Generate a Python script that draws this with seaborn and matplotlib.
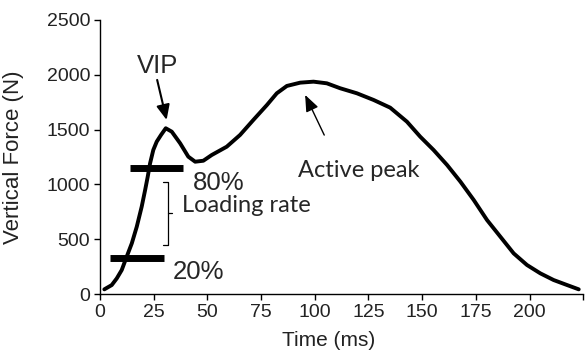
import numpy as np
import pandas as pd
import matplotlib
matplotlib.use("Agg")
import matplotlib.pyplot as plt
import seaborn as sns

# Data
time_ms = [2.0, 5.45, 7.8, 10.1, 12.4, 14.8, 17.1, 19.4, 21.0, 22.2, 23.3, 24.8,
           26.4, 28.4, 30.6, 33.4, 37.3, 41.1, 44.3, 48.1, 52.0, 59.0, 65.2, 71.4,
           77.7, 82.3, 87.0, 93.2, 99.4, 105.6, 111.8, 119.6, 127.4, 135.1, 142.9,
           149.1, 155.3, 161.6, 167.8, 174.0, 180.2, 186.4, 192.6, 198.8, 205.0,
           211.2, 217.5, 222.9]
force_n = [43, 82, 143, 219, 340, 463, 614, 797, 949, 1070, 1192, 1314,
           1390, 1451, 1512, 1481, 1375, 1253, 1207, 1216, 1268, 1344, 1451, 1588,
           1724, 1831, 1898, 1928, 1937, 1922, 1877, 1831, 1770, 1700, 1572,
           1435, 1314, 1177, 1025, 858, 675, 523, 371, 265, 189,
           128, 82, 43]

bar80_x = [14, 38.7]
bar80_y = [1150, 1150]
bar20_x = [4.7, 29.8]
bar20_y = [328, 328]

x_ticks = [0, 25, 50, 75, 100, 125, 150, 175, 200, 225]
x_tick_labels = ["0", "25", "50", "75", "100", "125", "150", "175", "200", ""]
y_ticks = [0, 500, 1000, 1500, 2000, 2500]
y_tick_labels = ["0", "500", "1000", "1500", "2000", "2500"]

sns.set_theme(style="ticks")
plt.rcParams['font.family'] = ['Liberation Sans', 'DejaVu Sans']

fig = plt.figure(figsize=(5.85, 3.56), dpi=100)
ax = fig.add_axes([0.171, 0.174, 0.826, 0.770])

df = pd.DataFrame({"t": time_ms, "f": force_n})
sns.lineplot(data=df, x="t", y="f", ax=ax, color="black", linewidth=2.8,
             sort=False, estimator=None)
ax.lines[-1].set_solid_joinstyle("round")
ax.plot(bar80_x, bar80_y, color="black", linewidth=5, solid_capstyle="butt")
ax.plot(bar20_x, bar20_y, color="black", linewidth=5, solid_capstyle="butt")

# bracket for loading rate
ax.plot([29.4, 31.7, 31.7, 29.4], [1022, 1022, 447, 447], color="black", linewidth=0.9)
ax.plot([31.7, 33.5], [740, 740], color="black", linewidth=0.9)

ax.set_xlim(0, 225)
ax.set_ylim(0, 2500)
ax.set_xticks(x_ticks)
ax.set_xticklabels(x_tick_labels)
ax.set_yticks(y_ticks)
ax.set_yticklabels(y_tick_labels)
ax.tick_params(axis="both", labelsize=14, length=4, width=1, colors="black",
               labelcolor="#222222", pad=3)
for s in ["left", "bottom"]:
    ax.spines[s].set_linewidth(1.0)
    ax.spines[s].set_color("black")
sns.despine(ax=ax)

ax.set_xlabel("Time (ms)", fontsize=15, color="#222222")
ax.set_ylabel("Vertical Force (N)", fontsize=16, color="#222222")
ax.xaxis.set_label_coords(0.474, -0.135)
ax.yaxis.set_label_coords(-0.158, 0.5)

# annotations
ax.text(27, 2080, "VIP", fontsize=18.5, ha="center", va="center")
ax.annotate("", xy=(31, 1588), xytext=(26.6, 1953),
            arrowprops=dict(arrowstyle="-|>,head_length=0.9,head_width=0.4",
                            mutation_scale=10, color="black", lw=1.5,
                            shrinkA=0, shrinkB=0))
ax.text(43.3, 1013, "80%", fontsize=18.5, ha="left", va="center")
ax.text(34, 200, "20%", fontsize=18.5, ha="left", va="center")
ax.text(38.2, 812, "Loading rate", fontsize=17, ha="left", va="center",
        family=["Lato", "DejaVu Sans"])
ax.text(92.3, 1131, "Active peak", fontsize=17, ha="left", va="center",
        family=["Lato", "DejaVu Sans"])
ax.annotate("", xy=(95.5, 1816), xytext=(104.4, 1450),
            arrowprops=dict(arrowstyle="-|>,head_length=1.0,head_width=0.4",
                            mutation_scale=10, color="black", lw=1.0,
                            shrinkA=0, shrinkB=0))

fig.savefig("out.png", dpi=100)
